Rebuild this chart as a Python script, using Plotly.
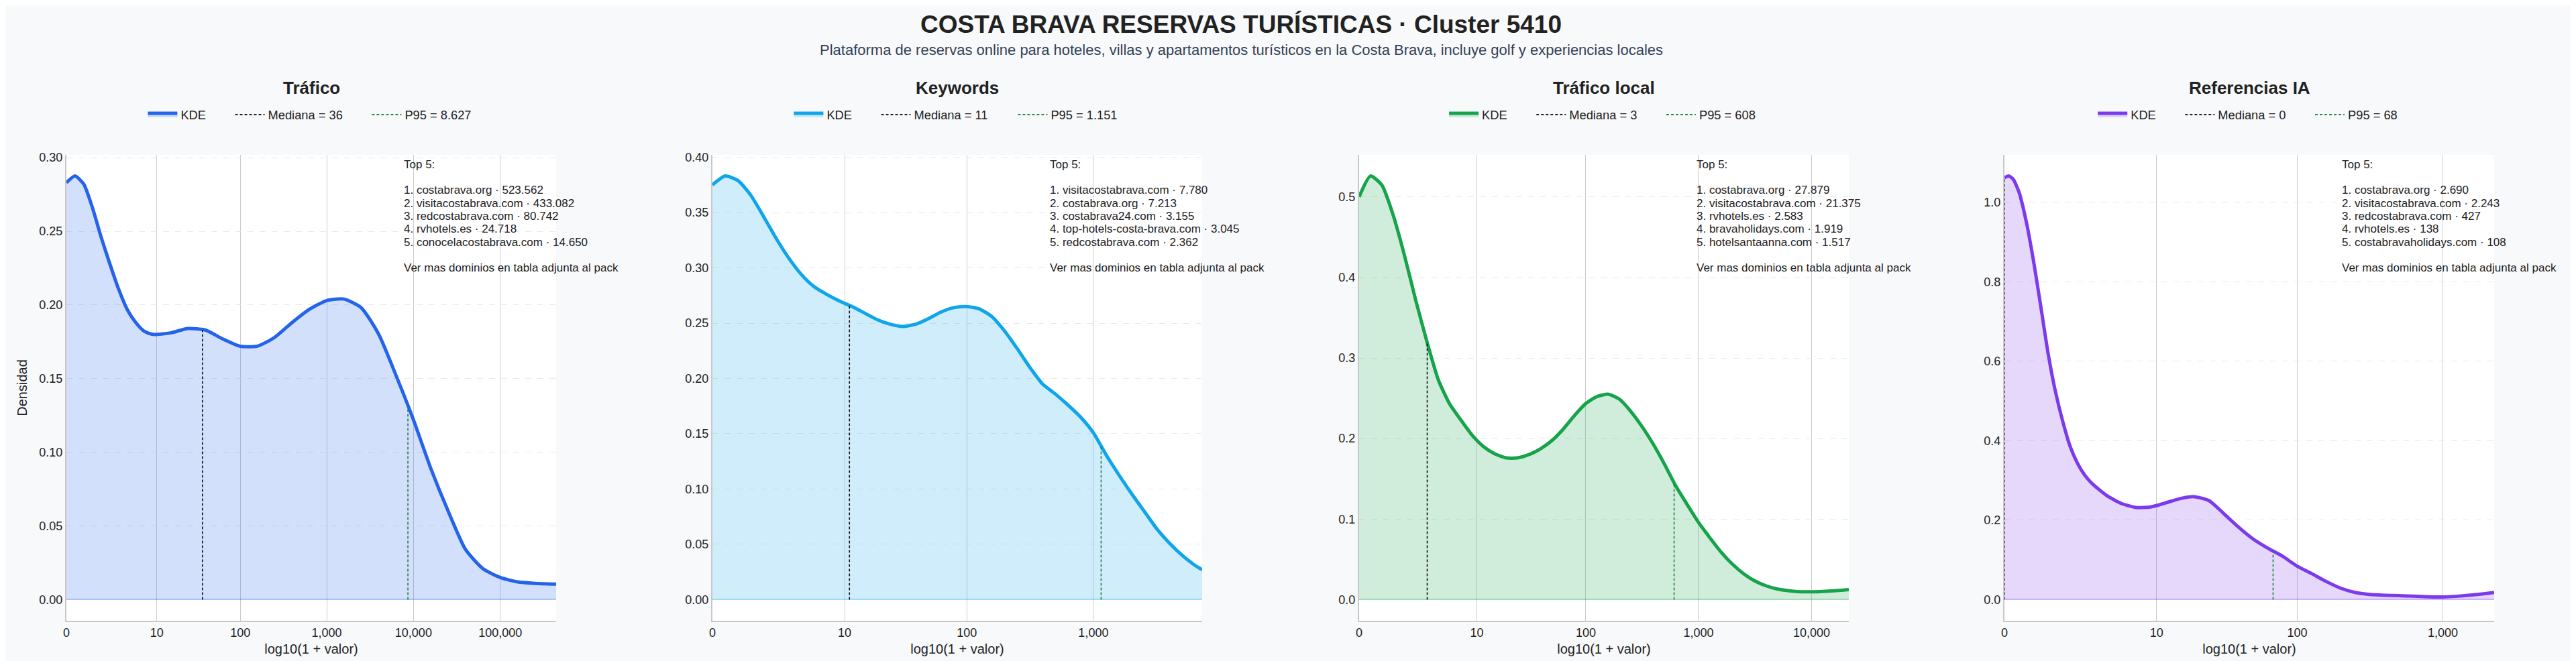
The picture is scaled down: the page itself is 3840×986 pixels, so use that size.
import numpy as np
import plotly.graph_objects as go

titulo = "COSTA BRAVA RESERVAS TURÍSTICAS · Cluster 5410"
subtitulo = ("Plataforma de reservas online para hoteles, villas y apartamentos turísticos "
             "en la Costa Brava, incluye golf y experiencias locales")

metricas = ["Tráfico", "Keywords", "Tráfico local", "Referencias IA"]
colores = ["#2563eb", "#0ea5e9", "#16a34a", "#7c3aed"]

# curvas KDE leidas sobre el eje log10(1 + valor)
trafico_x = [0.0, 0.1, 0.2, 0.3, 0.4, 0.5, 0.6, 0.7, 0.8, 0.9, 1.0, 1.2, 1.4, 1.6, 1.8, 2.0,
             2.2, 2.4, 2.6, 2.8, 3.0, 3.2, 3.4, 3.6, 3.8, 4.0, 4.2, 4.4, 4.6, 4.8, 5.0, 5.2,
             5.4, 5.644]
trafico_kde = [0.283, 0.2875, 0.282, 0.266, 0.246, 0.228, 0.211, 0.197, 0.188, 0.182, 0.180,
               0.181, 0.184, 0.183, 0.177, 0.172, 0.172, 0.178, 0.188, 0.197, 0.203, 0.204,
               0.198, 0.180, 0.152, 0.122, 0.089, 0.060, 0.034, 0.021, 0.015, 0.012, 0.011,
               0.0105]

keywords_x = [0.0, 0.1, 0.2, 0.3, 0.4, 0.5, 0.6, 0.7, 0.8, 0.9, 1.0, 1.1, 1.2, 1.3, 1.4, 1.5,
              1.6, 1.7, 1.8, 1.9, 2.0, 2.1, 2.2, 2.3, 2.4, 2.5, 2.6, 2.7, 2.8, 2.9, 3.0, 3.1,
              3.2, 3.3, 3.4, 3.5, 3.6, 3.7, 3.8, 3.857]
keywords_kde = [0.375, 0.383, 0.379, 0.366, 0.347, 0.327, 0.309, 0.294, 0.283, 0.276, 0.270,
                0.265, 0.259, 0.253, 0.249, 0.247, 0.249, 0.254, 0.260, 0.264, 0.265, 0.263,
                0.256, 0.243, 0.227, 0.210, 0.195, 0.186, 0.176, 0.165, 0.151, 0.131, 0.113,
                0.096, 0.080, 0.064, 0.051, 0.040, 0.031, 0.027]

local_x = [0.0, 0.1, 0.2, 0.3, 0.4, 0.5, 0.6, 0.7, 0.8, 0.9, 1.0, 1.1, 1.2, 1.3, 1.4, 1.5, 1.6,
           1.7, 1.8, 1.9, 2.0, 2.1, 2.2, 2.3, 2.4, 2.5, 2.6, 2.7, 2.8, 2.9, 3.0, 3.1, 3.2, 3.3,
           3.4, 3.5, 3.6, 3.7, 3.8, 3.9, 4.0, 4.1, 4.2, 4.329]
local_kde = [0.500, 0.526, 0.515, 0.478, 0.428, 0.372, 0.320, 0.273, 0.243, 0.223, 0.204, 0.190,
             0.181, 0.176, 0.176, 0.180, 0.187, 0.197, 0.211, 0.228, 0.243, 0.252, 0.255, 0.249,
             0.234, 0.215, 0.193, 0.168, 0.141, 0.118, 0.096, 0.077, 0.059, 0.044, 0.032, 0.023,
             0.017, 0.013, 0.011, 0.0098, 0.0097, 0.0102, 0.011, 0.0125]

ia_x = [0.0, 0.03, 0.06, 0.1, 0.15, 0.2, 0.25, 0.3, 0.35, 0.4, 0.45, 0.5, 0.55, 0.6, 0.7, 0.8,
        0.9, 1.0, 1.1, 1.2, 1.3, 1.4, 1.5, 1.6, 1.7, 1.8, 1.9, 2.0, 2.1, 2.2, 2.3, 2.4, 2.5,
        2.6, 2.7, 2.8, 2.9, 3.0, 3.1, 3.2, 3.3, 3.352]
ia_kde = [1.062, 1.066, 1.058, 1.025, 0.950, 0.850, 0.735, 0.617, 0.522, 0.447, 0.385, 0.343,
          0.313, 0.292, 0.262, 0.242, 0.232, 0.233, 0.243, 0.254, 0.259, 0.249, 0.217, 0.183,
          0.153, 0.130, 0.110, 0.085, 0.066, 0.046, 0.029, 0.018, 0.013, 0.011, 0.010, 0.0085,
          0.0072, 0.0065, 0.0085, 0.0115, 0.0155, 0.018]

curvas_x = [trafico_x, keywords_x, local_x, ia_x]
curvas_kde = [trafico_kde, keywords_kde, local_kde, ia_kde]

medianas = [36, 11, 3, 0]
p95 = [8627, 1151, 608, 68]
x_max = [5.644, 3.857, 4.329, 3.352]  # limite derecho, en log10(1 + valor)

ticks_valor = [0, 10, 100, 1000, 10000, 100000]
formato_y = [".2f", ".2f", ".1f", ".1f"]

top5 = [
    [("costabrava.org", 523562), ("visitacostabrava.com", 433082), ("redcostabrava.com", 80742),
     ("rvhotels.es", 24718), ("conocelacostabrava.com", 14650)],
    [("visitacostabrava.com", 7780), ("costabrava.org", 7213), ("costabrava24.com", 3155),
     ("top-hotels-costa-brava.com", 3045), ("redcostabrava.com", 2362)],
    [("costabrava.org", 27879), ("visitacostabrava.com", 21375), ("rvhotels.es", 2583),
     ("bravaholidays.com", 1919), ("hotelsantaanna.com", 1517)],
    [("costabrava.org", 2690), ("visitacostabrava.com", 2243), ("redcostabrava.com", 427),
     ("rvhotels.es", 138), ("costabravaholidays.com", 108)],
]

# ---- layout en pixeles ----
W, H = 3840, 986
M_T, M_B = 223, 68
panel_left = [91, 1054, 2018, 2980]
panel_w = 730
FONT = "Liberation Sans, Arial, sans-serif"
TXT = "#222222"
LEG_SIZE = 18.3
SYM_W = 44          # ancho del simbolo de leyenda
TXT_OFF = 54        # del inicio del simbolo al texto
ITEM_GAP = 38.5     # del fin del texto al siguiente simbolo

# anchos aproximados de Arial (em) para centrar la leyenda de cada panel
ANCHO = {" ": 0.278, ".": 0.278, "=": 0.584, "K": 0.667, "D": 0.722, "E": 0.667,
         "M": 0.833, "e": 0.556, "d": 0.556, "i": 0.222, "a": 0.556, "n": 0.556, "P": 0.667}


def ancho_txt(t, size):
    return sum(ANCHO.get(ch, 0.556) for ch in t) * size


def py(p):
    return (H - M_B - p) / (H - M_T - M_B)


def es_num(v):
    return f"{v:,}".replace(",", ".")


def rgba(hex_color, a):
    h = hex_color.lstrip("#")
    r, g, b = int(h[0:2], 16), int(h[2:4], 16), int(h[4:6], 16)
    return f"rgba({r},{g},{b},{a})"


fig = go.Figure()
annotations = []
leg_n = 0

for i, nombre in enumerate(metricas):
    n = "" if i == 0 else str(i + 1)
    xr, yr = "x" + n, "y" + n
    c = colores[i]
    xs = np.array(curvas_x[i])
    ys = np.array(curvas_kde[i])
    xm = np.log10(1 + medianas[i])
    xp = np.log10(1 + p95[i])

    items = [
        ("KDE", xs, ys, dict(color=c, width=5, shape="spline", smoothing=0.6), True),
        (f"Mediana = {es_num(medianas[i])}", [xm, xm], [0, np.interp(xm, xs, ys)],
         dict(color="#111111", width=1.6, dash="4px,3px"), False),
        (f"P95 = {es_num(p95[i])}", [xp, xp], [0, np.interp(xp, xs, ys)],
         dict(color="#1a7f37", width=1.6, dash="4px,3px"), False),
    ]

    # una leyenda por elemento, centradas sobre el panel
    anchos = [ancho_txt(it[0], LEG_SIZE) for it in items]
    total = sum(TXT_OFF + a for a in anchos) + ITEM_GAP * (len(items) - 1)
    pos = panel_left[i] + panel_w / 2 - total / 2

    for (name, x, y, line, relleno), a in zip(items, anchos):
        leg_n += 1
        leg = "legend" if leg_n == 1 else f"legend{leg_n}"
        fig.add_trace(go.Scatter(
            x=x, y=y, mode="lines", name=name, legend=leg, xaxis=xr, yaxis=yr, line=line,
            fill="tozeroy" if relleno else None,
            fillcolor=rgba(c, 0.2) if relleno else None,
        ))
        fig.update_layout({leg: dict(
            orientation="h", x=(pos - 5) / W, xanchor="left", y=py(163), yanchor="middle",
            font=dict(size=LEG_SIZE, color=TXT, family=FONT), bgcolor="rgba(0,0,0,0)",
            itemwidth=SYM_W,
        )})
        pos += TXT_OFF + a + ITEM_GAP

    tv = [v for v in ticks_valor if np.log10(1 + v) <= x_max[i]]
    ymax = ys.max()
    fig.update_layout({
        "xaxis" + n: dict(
            domain=[panel_left[i] / W, (panel_left[i] + panel_w) / W], anchor=yr,
            range=[0, x_max[i]], tickvals=[np.log10(1 + v) for v in tv],
            ticktext=[f"{v:,}" for v in tv], showgrid=True, gridcolor="#cccccc",
            gridwidth=1.2, showline=True, linecolor="#c8c8c8", linewidth=2,
            zeroline=True, zerolinecolor="#c8c8c8", zerolinewidth=2,
            ticks="", tickfont=dict(size=18, color=TXT),
            title=dict(text="log10(1 + valor)", font=dict(size=20, color=TXT), standoff=8),
            automargin=False,
        ),
        "yaxis" + n: dict(
            domain=[0, 1], anchor=xr, range=[-0.05 * ymax, 1.05 * ymax],
            tickformat=formato_y[i], showgrid=True, gridcolor="#e9e9e9", griddash="dash",
            showline=True, linecolor="#c8c8c8", linewidth=2, ticks="",
            zeroline=True, zerolinecolor=rgba(c, 0.3), zerolinewidth=2,
            tickfont=dict(size=18, color=TXT), automargin=False,
            title=dict(text="Densidad" if i == 0 else "", font=dict(size=20, color=TXT),
                       standoff=12),
        ),
    })

    annotations.append(dict(
        text=f"<b>{nombre}</b>", xref=xr + " domain", x=0.5, yref="paper", y=py(123),
        xanchor="center", yanchor="middle", showarrow=False,
        font=dict(size=26, color=TXT, family=FONT),
    ))
    lineas = ["Top 5:", ""] + [f"{k + 1}. {d} · {es_num(v)}" for k, (d, v) in enumerate(top5[i])]
    lineas += ["", "Ver mas dominios en tabla adjunta al pack"]
    for k, t in enumerate(lineas):
        if not t:
            continue
        annotations.append(dict(
            text=t, xref=xr + " domain", x=0.686, yref="paper", y=py(237.3 + 19.3 * k),
            xanchor="left", yanchor="middle", showarrow=False,
            font=dict(size=17, color=TXT, family=FONT),
        ))

annotations.append(dict(
    text=f"<b>{titulo}</b>", xref="paper", x=1842 / W, yref="paper", y=py(28.5),
    xanchor="center", yanchor="middle", showarrow=False,
    font=dict(size=37, color=TXT, family=FONT),
))
annotations.append(dict(
    text=subtitulo, xref="paper", x=1842 / W, yref="paper", y=py(67),
    xanchor="center", yanchor="middle", showarrow=False,
    font=dict(size=22, color="#334155", family=FONT),
))

fig.update_layout(
    width=W, height=H, margin=dict(l=0, r=0, t=M_T, b=M_B),
    paper_bgcolor="#f8f9fb", plot_bgcolor="#ffffff",
    font=dict(family=FONT, color=TXT), annotations=annotations,
    showlegend=True, template="none",
)

# el eje vertical tapa la mediana cuando cae en 0 (como en el original)
try:
    fig.update_xaxes(zerolinelayer="above traces")
except ValueError:
    pass

fig.write_html("out.html")
